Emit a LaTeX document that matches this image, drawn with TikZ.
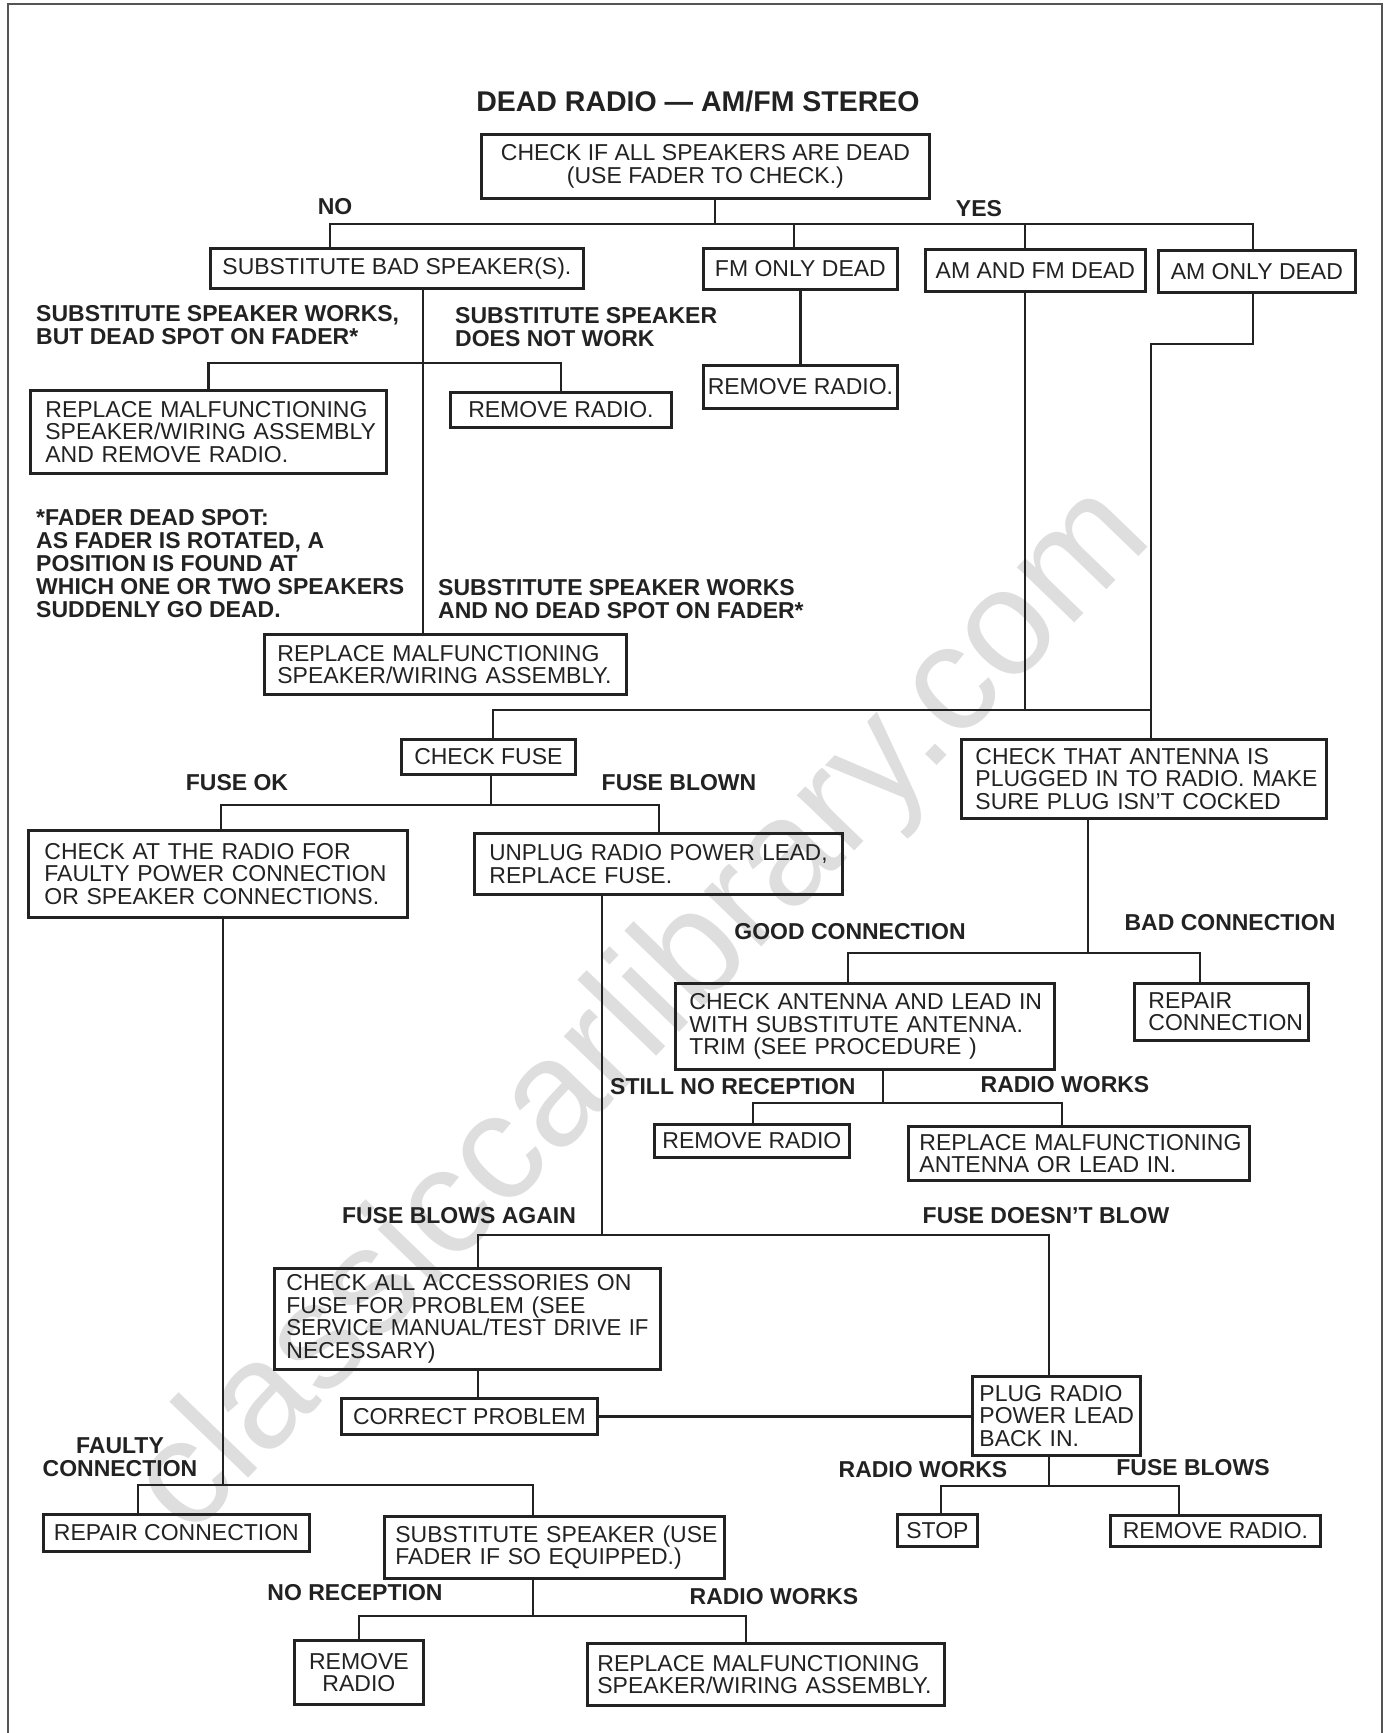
\documentclass[tikz,border=0pt]{standalone}
\usepackage{fontspec}
\usepackage{graphicx}
\setmainfont{Liberation Sans}
\definecolor{ink}{HTML}{222222}
\definecolor{wmark}{HTML}{DEDEDE}
\definecolor{framec}{HTML}{555555}
\newcommand\bxfont{\fontsize{23}{22.5}\selectfont}
\newcommand\lbfont{\bfseries\fontsize{23}{23}\selectfont}
\newcommand\bxl[1]{\mbox{#1}}
\begin{document}
\begin{tikzpicture}[x=1pt,y=-1pt,
  box/.style={draw=ink, line width=2.8pt, text=ink, font=\bxfont, anchor=north west, inner ysep=0pt, align=left},
  cbox/.style={box, align=center, inner xsep=0pt},
  conn/.style={draw=ink, line width=2.5pt},
  lab/.style={font=\lbfont, text=ink, inner sep=0pt, align=left},
  labw/.style={lab, anchor=west}]
\useasboundingbox (0,0) rectangle (1390,1733);
% frame
\draw[framec, line width=2pt] (8,1733) -- (8,4) -- (1382,4) -- (1382,1733);
% watermark
\node[rotate=46, anchor=base, inner sep=0pt, text=wmark, font=\fontsize{151}{151}\selectfont] (wmk) at (672,1040) {classiccarlibrary.com};
% title
\node[font=\bfseries\fontsize{28.5}{28.5}\selectfont, text=ink, inner sep=0pt] (title) at (698,101) {DEAD RADIO — AM/FM STEREO};

% boxes
\node[cbox, minimum width=448pt, minimum height=64pt] (b1) at (480,133) {CHECK IF ALL SPEAKERS ARE DEAD\\(USE FADER TO CHECK.)};
\node[cbox, minimum width=373pt, minimum height=40pt] (sub) at (209,247) {SUBSTITUTE BAD SPEAKER(S).};
\node[cbox, minimum width=194pt, minimum height=41pt] (fm) at (702,247) {FM ONLY DEAD};
\node[cbox, minimum width=220pt, minimum height=42pt] (amfm) at (924,248) {AM AND FM DEAD};
\node[cbox, minimum width=197pt, minimum height=42pt] (am) at (1157,249) {AM ONLY DEAD};
\node[box, minimum width=356pt, minimum height=83pt, inner xsep=15pt, text width=326pt] (rep1) at (29,389) {\bxl{REPLACE MALFUNCTIONING}\\\bxl{SPEAKER/WIRING ASSEMBLY}\\\bxl{AND REMOVE RADIO.}};
\node[cbox, minimum width=221pt, minimum height=35pt] (rr1) at (449,391) {REMOVE RADIO.};
\node[cbox, minimum width=194pt, minimum height=43pt] (rr2) at (702,364) {REMOVE RADIO.};
\node[box, minimum width=362pt, minimum height=60pt, inner xsep=13pt, text width=336pt] (rep2) at (263,633) {\bxl{REPLACE MALFUNCTIONING}\\\bxl{SPEAKER/WIRING ASSEMBLY.}};
\node[cbox, minimum width=174pt, minimum height=35pt] (fuse) at (400,738) {CHECK FUSE};
\node[box, minimum width=365pt, minimum height=79pt, inner xsep=14pt, text width=337pt] (ant) at (960,738) {\bxl{CHECK THAT ANTENNA IS}\\\bxl{PLUGGED IN TO RADIO. MAKE}\\\bxl{SURE PLUG ISN'T COCKED}};
\node[box, minimum width=379pt, minimum height=87pt, inner xsep=16pt, text width=347pt] (chk) at (27,829) {\bxl{CHECK AT THE RADIO FOR}\\\bxl{FAULTY POWER CONNECTION}\\\bxl{OR SPEAKER CONNECTIONS.}};
\node[box, minimum width=368pt, minimum height=61pt, inner xsep=15pt, text width=338pt] (unp) at (473,832) {\bxl{\scalebox{0.98}[1]{UNPLUG RADIO POWER LEAD,}}\\\bxl{REPLACE FUSE.}};
\node[box, minimum width=379pt, minimum height=86pt, inner xsep=14pt, text width=351pt] (cal) at (674,982) {\bxl{CHECK ANTENNA AND LEAD IN}\\\bxl{WITH SUBSTITUTE ANTENNA.}\\\bxl{TRIM (SEE PROCEDURE )}};
\node[box, minimum width=174pt, minimum height=57pt, inner xsep=14pt, text width=146pt] (repc) at (1133,982) {\bxl{REPAIR}\\\bxl{CONNECTION}};
\node[cbox, minimum width=195pt, minimum height=33pt] (rr3) at (653,1123) {REMOVE RADIO};
\node[box, minimum width=341pt, minimum height=54pt, inner xsep=11pt, text width=319pt] (repa) at (907,1125) {\bxl{REPLACE MALFUNCTIONING}\\\bxl{ANTENNA OR LEAD IN.}};
\node[box, minimum width=386pt, minimum height=101pt, inner xsep=12pt, text width=362pt] (acc) at (273,1267) {\bxl{CHECK ALL ACCESSORIES ON}\\\bxl{FUSE FOR PROBLEM (SEE}\\\bxl{\scalebox{0.965}[1]{SERVICE MANUAL/TEST DRIVE IF}}\\\bxl{NECESSARY)}};
\node[cbox, minimum width=256pt, minimum height=36pt] (cor) at (340,1397) {CORRECT PROBLEM};
\node[box, minimum width=168pt, minimum height=79pt, inner xsep=7pt, text width=154pt] (plug) at (971,1375) {\bxl{PLUG RADIO}\\\bxl{POWER LEAD}\\\bxl{BACK IN.}};
\node[cbox, minimum width=266pt, minimum height=37pt] (repc2) at (42,1513) {REPAIR CONNECTION};
\node[box, minimum width=340pt, minimum height=62pt, inner xsep=11pt, text width=318pt] (subs) at (383,1515) {\bxl{SUBSTITUTE SPEAKER (USE}\\\bxl{FADER IF SO EQUIPPED.)}};
\node[cbox, minimum width=80pt, minimum height=32pt] (stop) at (896,1513) {STOP};
\node[cbox, minimum width=210pt, minimum height=31pt] (rr4) at (1109,1514) {REMOVE RADIO.};
\node[cbox, minimum width=129pt, minimum height=64pt] (rr5) at (293,1639) {REMOVE\\RADIO};
\node[box, minimum width=357pt, minimum height=62pt, inner xsep=10pt, text width=337pt] (reps) at (586,1642) {\bxl{REPLACE MALFUNCTIONING}\\\bxl{SPEAKER/WIRING ASSEMBLY.}};

% labels
\node[lab] (lno) at (335,207) {NO};
\node[lab] (lyes) at (979,209) {YES};
\node[labw] (l1) at (36,325) {SUBSTITUTE SPEAKER WORKS,\\BUT DEAD SPOT ON FADER*};
\node[labw] (l2) at (455,327) {SUBSTITUTE SPEAKER\\DOES NOT WORK};
\node[labw] (l3) at (36,564) {*FADER DEAD SPOT:\\AS FADER IS ROTATED, A\\POSITION IS FOUND AT\\WHICH ONE OR TWO SPEAKERS\\SUDDENLY GO DEAD.};
\node[labw] (l4) at (438,599) {SUBSTITUTE SPEAKER WORKS\\AND NO DEAD SPOT ON FADER*};
\node[lab] (lfok) at (237,783) {FUSE OK};
\node[lab] (lfbl) at (679,783) {FUSE BLOWN};
\node[lab] (lgood) at (850,932) {GOOD CONNECTION};
\node[lab] (lbad) at (1230,923) {BAD CONNECTION};
\node[labw] (lstill) at (610,1087) {STILL NO RECEPTION};
\node[lab] (lrw1) at (1065,1085) {RADIO WORKS};
\node[lab] (lfba) at (459,1216) {FUSE BLOWS AGAIN};
\node[lab] (lfdb) at (1046,1216) {FUSE DOESN'T BLOW};
\node[lab, align=center] (lfc) at (120,1457) {FAULTY\\CONNECTION};
\node[lab] (lrw2) at (923,1470) {RADIO WORKS};
\node[lab] (lfb) at (1193,1468) {FUSE BLOWS};
\node[lab] (lnr) at (355,1593) {NO RECEPTION};
\node[lab] (lrw3) at (774,1597) {RADIO WORKS};

% bus levels
\coordinate (yA) at (0,224);
\coordinate (yB) at (0,363);
\coordinate (yK) at (0,344);
\coordinate (yC) at (0,710);
\coordinate (yD) at (0,805);
\coordinate (yE) at (0,953);
\coordinate (yF) at (0,1103);
\coordinate (yG) at (0,1235);
\coordinate (yH) at (0,1486);
\coordinate (yI) at (0,1485);
\coordinate (yJ) at (0,1616);

% attachment points
\coordinate (b1d) at ([xshift=235pt]b1.south west);
\coordinate (subU) at ([xshift=121pt]sub.north west);
\coordinate (fmU) at ([xshift=92pt]fm.north west);
\coordinate (amfmU) at ([xshift=101pt]amfm.north west);
\coordinate (amU) at ([xshift=96pt]am.north west);
\coordinate (subD) at ([xshift=214pt]sub.south west);
\coordinate (amfmD) at ([xshift=101pt]amfm.south west);
\coordinate (amD) at ([xshift=96pt]am.south west);
\coordinate (antU) at ([xshift=191pt]ant.north west);
\coordinate (fuseU) at ([xshift=93pt]fuse.north west);
\coordinate (fuseD) at ([xshift=91pt]fuse.south west);
\coordinate (chkU) at ([xshift=194pt]chk.north west);
\coordinate (unpU) at ([xshift=186pt]unp.north west);
\coordinate (antD) at ([xshift=128pt]ant.south west);
\coordinate (calU) at ([xshift=174pt]cal.north west);
\coordinate (repcU) at ([xshift=67pt]repc.north west);
\coordinate (calD) at ([xshift=209pt]cal.south west);
\coordinate (rr3U) at ([xshift=100pt]rr3.north west);
\coordinate (repaU) at ([xshift=155pt]repa.north west);
\coordinate (unpD) at ([xshift=129pt]unp.south west);
\coordinate (accU) at ([xshift=205pt]acc.north west);
\coordinate (plugU) at ([xshift=78pt]plug.north west);
\coordinate (accD) at ([xshift=205pt]acc.south west);
\coordinate (plugD) at ([xshift=78pt]plug.south west);
\coordinate (stopU) at ([xshift=45pt]stop.north west);
\coordinate (rr4U) at ([xshift=70pt]rr4.north west);
\coordinate (chkD) at ([xshift=196pt]chk.south west);
\coordinate (repc2U) at ([xshift=96pt]repc2.north west);
\coordinate (subsU) at ([xshift=150pt]subs.north west);
\coordinate (subsD) at ([xshift=150pt]subs.south west);
\coordinate (repsU) at ([xshift=160pt]reps.north west);

% connectors
\draw[conn] (b1d) -- (b1d |- yA);
\draw[conn] (subU) -- (subU |- yA) -- (amU |- yA) -- (amU);
\draw[conn] (fmU) -- (fmU |- yA);
\draw[conn] (amfmU) -- (amfmU |- yA);
\draw[conn] (subD) -- (subD |- rep2.north);
\draw[conn] (rep1.north) -- (rep1.north |- yB) -- (rr1.north |- yB) -- (rr1.north);
\draw[conn] (fm.south) -- (rr2.north);
\draw[conn] (amfmD) -- (amfmD |- yC);
\draw[conn] (amD) -- (amD |- yK) -- (antU |- yK) -- (antU);
\draw[conn] (fuseU) -- (fuseU |- yC) -- (antU |- yC);
\draw[conn] (fuseD) -- (fuseD |- yD);
\draw[conn] (chkU) -- (chkU |- yD) -- (unpU |- yD) -- (unpU);
\draw[conn] (antD) -- (antD |- yE);
\draw[conn] (calU) -- (calU |- yE) -- (repcU |- yE) -- (repcU);
\draw[conn] (calD) -- (calD |- yF);
\draw[conn] (rr3U) -- (rr3U |- yF) -- (repaU |- yF) -- (repaU);
\draw[conn] (unpD) -- (unpD |- yG);
\draw[conn] (accU) -- (accU |- yG) -- (plugU |- yG) -- (plugU);
\draw[conn] (accD) -- (accD |- cor.north);
\draw[conn] (cor.east) -- (cor.east -| plug.west);
\draw[conn] (plugD) -- (plugD |- yH);
\draw[conn] (stopU) -- (stopU |- yH) -- (rr4U |- yH) -- (rr4U);
\draw[conn] (chkD) -- (chkD |- yI);
\draw[conn] (repc2U) -- (repc2U |- yI) -- (subsU |- yI) -- (subsU);
\draw[conn] (subsD) -- (subsD |- yJ);
\draw[conn] (rr5.north) -- (rr5.north |- yJ) -- (repsU |- yJ) -- (repsU);
\end{tikzpicture}
\end{document}
